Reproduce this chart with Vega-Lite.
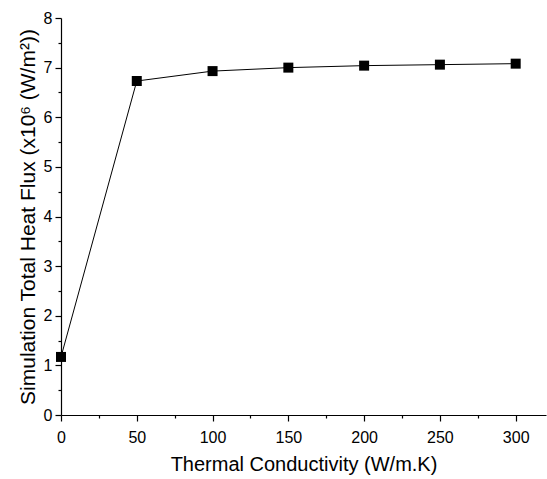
{
  "$schema": "https://vega.github.io/schema/vega-lite/v6.json",
  "width": 485,
  "height": 397,
  "autosize": "none",
  "padding": {"left": 61, "top": 18, "right": 1, "bottom": 64},
  "background": "white",
  "config": {
    "view": {"stroke": null},
    "font": "Liberation Sans",
    "axis": {"grid": false, "domainColor": "black", "tickColor": "black", "labelColor": "black", "titleColor": "black", "labelFont": "Liberation Sans", "titleFont": "Liberation Sans", "labelFontSize": 16, "titleFontSize": 20, "titleFontWeight": "normal", "domainWidth": 1.2, "tickWidth": 1.2, "labelFlush": false, "labelOverlap": false}
  },
  "data": {"values": [
    {"k": 0, "flux": 1.17},
    {"k": 50, "flux": 6.73},
    {"k": 100, "flux": 6.93},
    {"k": 150, "flux": 7.0},
    {"k": 200, "flux": 7.04},
    {"k": 250, "flux": 7.06},
    {"k": 300, "flux": 7.08}
  ]},
  "encoding": {
    "x": {"field": "k", "type": "quantitative", "scale": {"domain": [0, 320], "nice": false}},
    "y": {"field": "flux", "type": "quantitative", "scale": {"domain": [0, 8], "nice": false}}
  },
  "resolve": {"axis": {"x": "independent", "y": "independent"}},
  "layer": [
    {
      "mark": {"type": "line", "color": "black", "strokeWidth": 1},
      "encoding": {
        "x": {"field": "k", "type": "quantitative", "axis": {"orient": "bottom", "values": [0, 50, 100, 150, 200, 250, 300], "tickSize": 6, "labelPadding": 8, "title": "Thermal Conductivity (W/m.K)", "titlePadding": 9}},
        "y": {"field": "flux", "type": "quantitative", "axis": {"orient": "left", "values": [0, 1, 2, 3, 4, 5, 6, 7, 8], "tickSize": 6, "labelPadding": 3, "title": "Simulation Total Heat Flux (x10⁶ (W/m²))", "titleFontSize": 21, "titlePadding": 5}}
      }
    },
    {
      "mark": {"type": "square", "color": "black", "filled": true, "size": 100, "opacity": 1},
      "encoding": {
        "x": {"field": "k", "type": "quantitative", "axis": {"orient": "bottom", "values": [25, 75, 125, 175, 225, 275], "tickSize": 3, "labels": false, "domain": false, "title": null}},
        "y": {"field": "flux", "type": "quantitative", "axis": {"orient": "left", "values": [0.5, 1.5, 2.5, 3.5, 4.5, 5.5, 6.5, 7.5], "tickSize": 3, "labels": false, "domain": false, "title": null}}
      }
    }
  ]
}
